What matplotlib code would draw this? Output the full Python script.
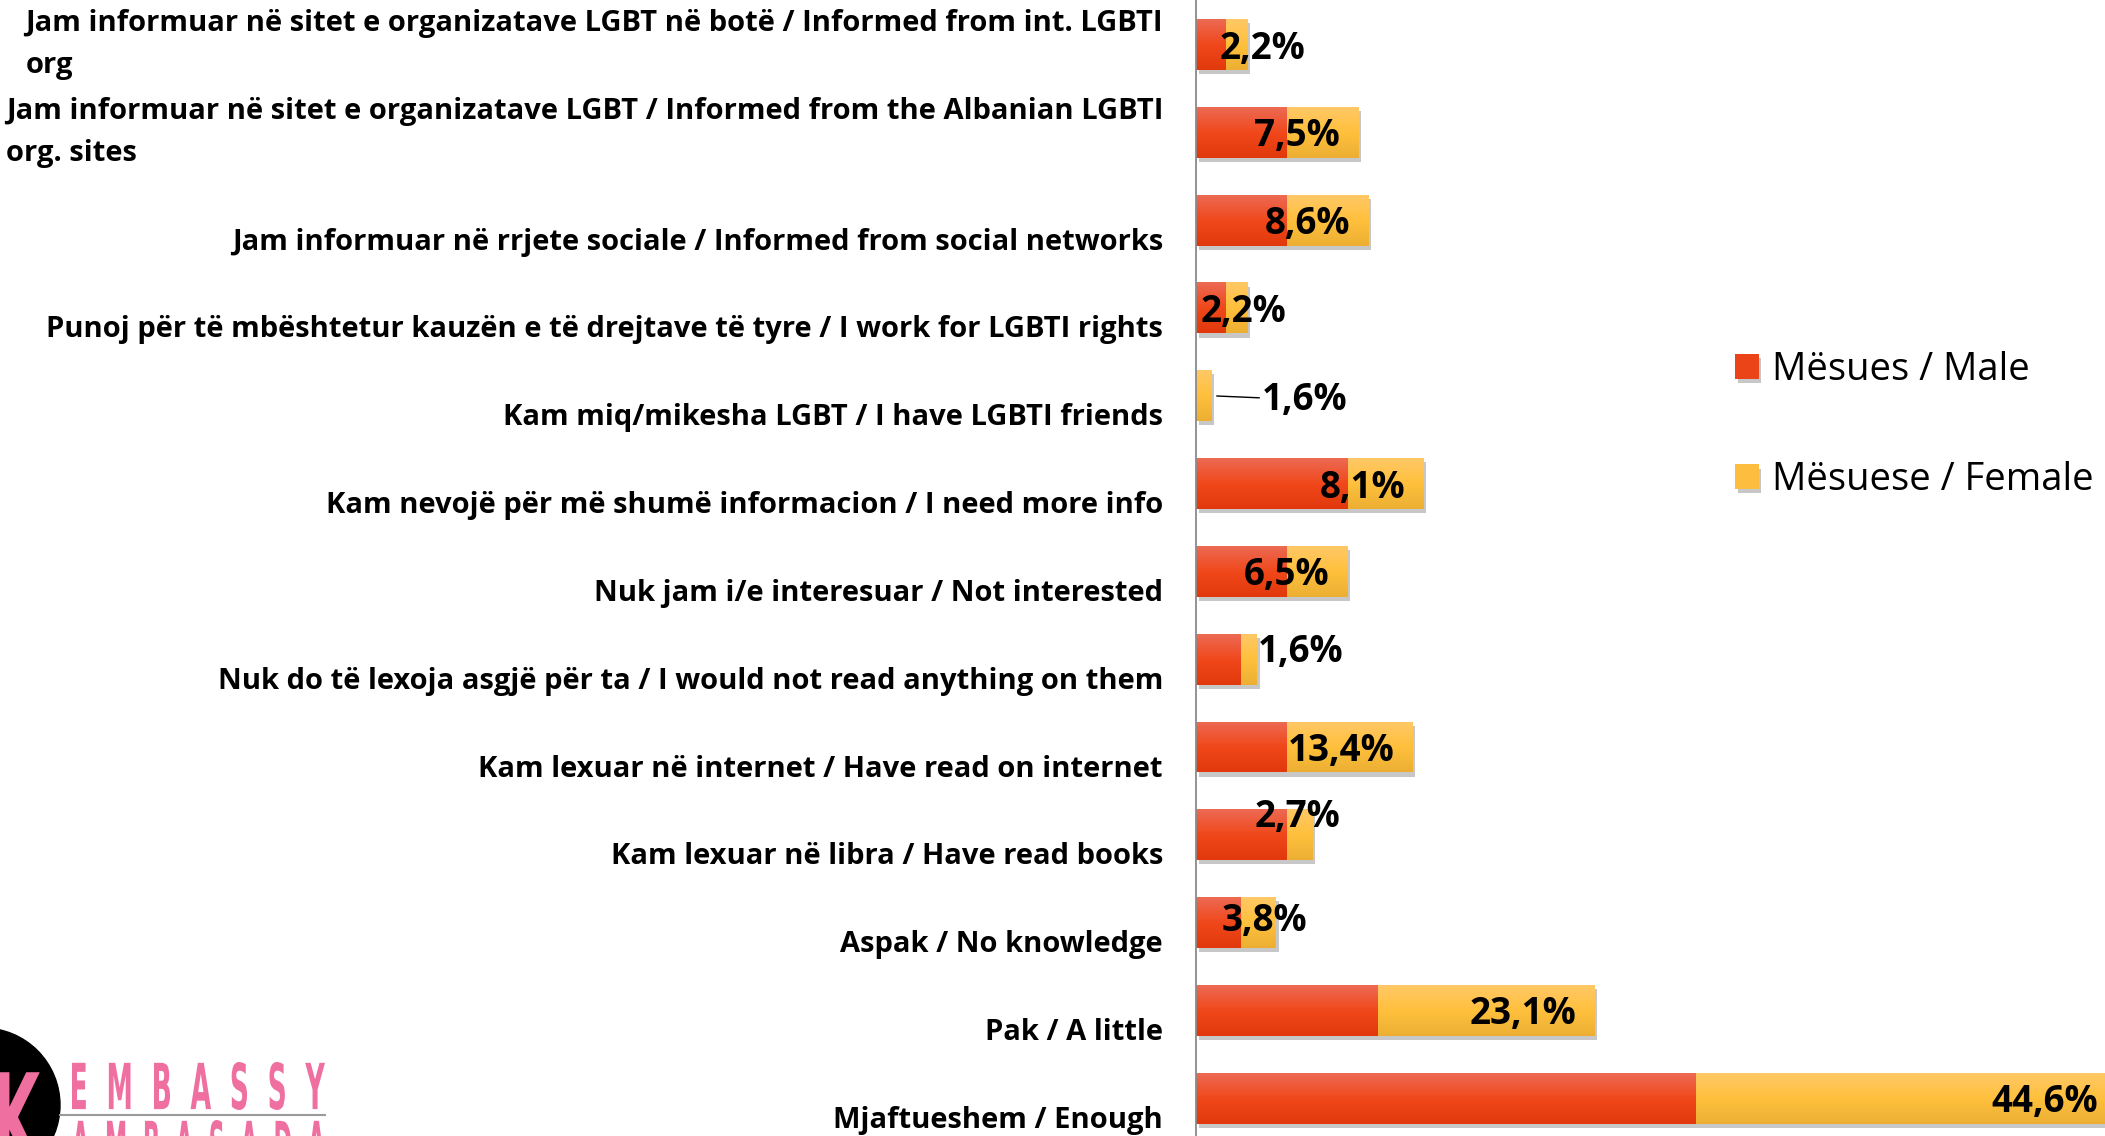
import matplotlib
matplotlib.use("Agg")
import numpy as np
import matplotlib.pyplot as plt
import matplotlib.patheffects as pe
from matplotlib.patches import Circle, PathPatch
from matplotlib.textpath import TextPath
from matplotlib.font_manager import FontProperties
from matplotlib.transforms import Affine2D
from matplotlib.colors import LinearSegmentedColormap

plt.rcParams['font.family'] = ['Open Sans', 'DejaVu Sans']

categories = [
    "Jam informuar në sitet e organizatave LGBT në botë / Informed from int. LGBTI\norg",
    "Jam informuar në sitet e organizatave LGBT / Informed from the Albanian LGBTI\norg. sites",
    "Jam informuar në rrjete sociale / Informed from social networks",
    "Punoj për të mbështetur kauzën e të drejtave të tyre / I work for LGBTI rights",
    "Kam miq/mikesha LGBT / I have LGBTI friends",
    "Kam nevojë për më shumë informacion / I need more info",
    "Nuk jam i/e interesuar / Not interested",
    "Nuk do të lexoja asgjë për ta / I would not read anything on them",
    "Kam lexuar në internet / Have read on internet",
    "Kam lexuar në libra / Have read books",
    "Aspak / No knowledge",
    "Pak / A little",
    "Mjaftueshem / Enough",
]
male = [2, 6, 6, 2, 0, 10, 6, 3, 6, 6, 3, 12, 33]
female = [1.4, 4.7, 5.35, 1.4, 1.0, 5.0, 4.0, 1.05, 8.3, 1.7, 2.3, 14.3, 27.7]
totals = ["2,2%", "7,5%", "8,6%", "2,2%", "1,6%", "8,1%", "6,5%", "1,6%",
          "13,4%", "2,7%", "3,8%", "23,1%", "44,6%"]
series_names = ["Mësues / Male", "Mësuese / Female"]

red = "#EA4418"
yellow = "#FDBE3F"
red_grad = LinearSegmentedColormap.from_list("r", ["#EC6A53", "#F0481B", "#E1390C"])
yel_grad = LinearSegmentedColormap.from_list("y", ["#FFC866", "#FFC03C", "#ECAF33"])

fig = plt.figure(figsize=(21.05, 11.36), dpi=100)
ax = fig.add_axes([1196 / 2105, 0, 909 / 2105, 1])

y = range(len(categories))
shadow = [pe.SimplePatchShadow(offset=(2, -3), shadow_rgbFace="black", alpha=0.22), pe.Normal()]
b1 = ax.barh(y, male, height=0.58, color=red, label=series_names[0])
b2 = ax.barh(y, female, left=male, height=0.58, color=yellow, label=series_names[1])

# gradient fill like the office style (light on top)
grad = np.linspace(0, 1, 64).reshape(-1, 1)
for bars, cm in [(b1, red_grad), (b2, yel_grad)]:
    for b in bars:
        b.set_path_effects(shadow)
        if b.get_width() <= 0:
            continue
        x0, y0 = b.get_x(), b.get_y()
        im = ax.imshow(grad, cmap=cm, aspect="auto", interpolation="bilinear",
                       extent=(x0, x0 + b.get_width(), y0 + b.get_height(), y0),
                       origin="upper", zorder=2.5)
        im.set_clip_path(b)

ax.set_xlim(0, 60)
ax.set_ylim(12.43, -0.507)
for s in ["top", "right", "bottom"]:
    ax.spines[s].set_visible(False)
ax.spines["left"].set_color("#8a8a8a")
ax.spines["left"].set_linewidth(1.3)
ax.set_xticks([])
ax.set_yticks([])

# category labels (single lines sit a bit lower, like the original)
for i, lab in enumerate(categories):
    dy = 0 if "\n" in lab else -22
    ax.annotate(lab, xy=(0, i), xycoords=("axes fraction", "data"),
                xytext=(-33, dy), textcoords="offset pixels",
                ha="right", va="center", multialignment="left",
                fontsize=21, fontweight="bold", linespacing=1.62)

# data labels: inside end by default, some moved by hand
moved = {0: (-28, 0), 3: (-47, 0), 4: (51, 0), 7: (0, 11), 9: (-58, 22), 10: (-55, 6)}
for i, txt in enumerate(totals):
    end = male[i] + female[i]
    if i in moved:
        dx, dy = moved[i]
        arrow = dict(arrowstyle="-", color="black", lw=1, shrinkA=0, shrinkB=4) if i == 4 else None
        ax.annotate(txt, xy=(end, i), xytext=(dx, dy - 4), textcoords="offset pixels",
                    ha="left", va="center", fontsize=26.5, fontweight="bold",
                    arrowprops=arrow, annotation_clip=False, zorder=4)
    else:
        ax.annotate(txt, xy=(end, i), xytext=(-18, -4), textcoords="offset pixels",
                    ha="right", va="center", fontsize=26.5, fontweight="bold",
                    annotation_clip=False, zorder=4)

leg = ax.legend(loc="center left", bbox_to_anchor=(1735 / 2105, 1 - 425 / 1136),
                bbox_transform=fig.transFigure, frameon=False, fontsize=27.5,
                handlelength=0.62, handleheight=0.62, handletextpad=0.35,
                labelspacing=1.9, borderpad=0, borderaxespad=0)

# logo in the lower left corner
fig.add_artist(Circle((-0.17, 0.31), 0.77, transform=fig.dpi_scale_trans,
                      color="black", zorder=5))
pink = "#EE6FA0"
fp = FontProperties(family="DejaVu Sans", weight="bold")
k = TextPath((0, 0), "K", size=1, prop=fp)
ke = k.get_extents()
fig.add_artist(PathPatch(k, transform=Affine2D().translate(-ke.x1, 0).scale(62, 130).translate(42, -31),
                         color=pink, lw=0, zorder=6))
for word, top in [("EMBASSY", 1062), ("AMBASADA", 1120)]:
    spaced = "  ".join(word)
    tp = TextPath((0, 0), spaced, size=1, prop=fp)
    e = tp.get_extents()
    sx = (325 - 72) / e.width
    sy = 48 / e.height
    tr = Affine2D().translate(-e.x0, -e.y0).scale(sx, sy).translate(72, 1136 - top - 48)
    fig.add_artist(PathPatch(tp, transform=tr, color=pink, lw=0, zorder=6))
fig.add_artist(plt.Line2D([60, 325], [1136 - 1115, 1136 - 1115], transform=None,
                          color="#9a9a9a", lw=1.5, zorder=6))

fig.savefig("out.png", dpi=100)
